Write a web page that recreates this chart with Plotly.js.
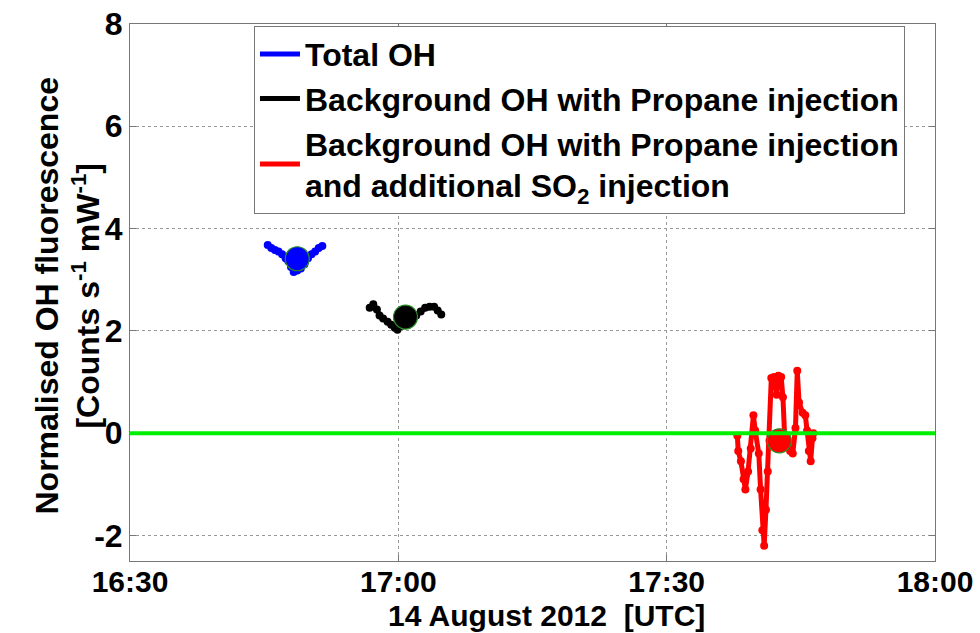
<!DOCTYPE html>
<html>
<head>
<meta charset="utf-8">
<script src="https://cdn.plot.ly/plotly-3.0.1.min.js"></script>
<style>html,body{margin:0;padding:0;background:#fff;}#chart{width:980px;height:633px;}</style>
</head>
<body>
<div id="chart"></div>
<script>
// Minutes after 16:30 UTC, 14 August 2012
const blueMinutes = [15.4, 15.8, 16.2, 16.6, 17.0, 17.4, 17.7, 18.0, 18.3, 18.7, 19.1, 19.5, 19.9, 20.3, 20.7, 21.1, 21.5];
const blueValues  = [3.68, 3.62, 3.58, 3.55, 3.50, 3.42, 3.36, 3.25, 3.15, 3.18, 3.22, 3.30, 3.42, 3.50, 3.55, 3.62, 3.66];
const blueMeanMinute = [18.7];
const blueMeanValue  = [3.41];

const blackMinutes = [26.8, 27.2, 27.6, 27.9, 28.3, 28.8, 29.2, 29.6, 29.9, 30.4, 30.9, 31.5, 32.0, 32.5, 33.0, 33.5, 34.0, 34.4, 34.8];
const blackValues  = [2.45, 2.52, 2.42, 2.30, 2.24, 2.18, 2.12, 2.06, 2.02, 2.10, 2.15, 2.20, 2.30, 2.38, 2.45, 2.47, 2.47, 2.40, 2.32];
const blackMeanMinute = [30.8];
const blackMeanValue  = [2.27];

const redMinutes = [67.9, 68.0, 68.3, 68.6, 68.8, 69.1, 69.4, 69.7, 69.9, 70.3, 70.5, 70.7, 70.9, 71.1, 71.3, 71.5, 71.7, 72.0, 72.3, 72.5, 72.8, 73.0, 73.2, 73.5, 73.8, 74.1, 74.4, 74.6, 74.8, 75.2, 75.5, 75.7, 75.9, 76.1, 76.3, 76.4];
const redValues  = [-0.05, -0.35, -0.55, -0.9, -1.1, -0.75, -0.3, 0.35, 0.05, -0.4, -1.1, -1.9, -2.2, -1.5, -0.75, -0.15, 1.08, 1.1, 0.75, 1.12, 1.1, 0.7, -0.1, -0.2, -0.35, -0.4, 0.1, 1.22, 0.6, 0.4, 0.35, 0.05, -0.35, -0.55, -0.1, 0.0];
const redMeanMinute = [72.6];
const redMeanValue  = [-0.15];

const seriesNames = [
  'Total OH',
  'Background OH with Propane injection',
  'Background OH with Propane injection<br>and additional SO<sub>2</sub> injection'
];
const xTickLabels = ['16:30', '17:00', '17:30', '18:00'];
const yTickValues = [-2, 0, 2, 4, 6, 8];
const xTitle = '14 August 2012  [UTC]';
const yTitle = 'Normalised OH fluorescence<br>[Counts s<sup>-1</sup> mW<sup>-1</sup>]';

const base = new Date(Date.UTC(2012, 7, 14, 16, 30, 0));
function toTime(m) {
  const d = new Date(base.getTime() + m * 60000);
  const p = n => String(n).padStart(2, '0');
  return '2012-08-14 ' + p(d.getUTCHours()) + ':' + p(d.getUTCMinutes()) + ':' + p(d.getUTCSeconds());
}
const tickVals = xTickLabels.map(t => '2012-08-14 ' + t + ':00');

const F = {family: 'Liberation Sans, Arial, sans-serif', size: 32, color: '#000', weight: 'bold'};
const FX = {family: 'Liberation Sans, Arial, sans-serif', size: 30, color: '#000', weight: 'bold'};
const colors = ['#0000ff', '#000000', '#ff0000'];

function lineTrace(mins, vals, c) {
  return {x: mins.map(toTime), y: vals, mode: 'lines+markers', type: 'scatter',
    line: {color: c, width: 5}, marker: {color: c, size: 8}, showlegend: false, hoverinfo: 'skip'};
}
function meanTrace(mins, vals, c) {
  return {x: mins.map(toTime), y: vals, mode: 'markers', type: 'scatter',
    marker: {color: c, size: 24, line: {color: 'rgb(40,140,40)', width: 1.2}}, showlegend: false};
}
function legendTrace(name, c) {
  return {x: [null], y: [null], mode: 'lines', type: 'scatter', name: name,
    line: {color: c, width: 5}, showlegend: true};
}

const data = [
  lineTrace(blueMinutes, blueValues, colors[0]),
  lineTrace(blackMinutes, blackValues, colors[1]),
  lineTrace(redMinutes, redValues, colors[2]),
  meanTrace(blueMeanMinute, blueMeanValue, colors[0]),
  meanTrace(blackMeanMinute, blackMeanValue, colors[1]),
  meanTrace(redMeanMinute, redMeanValue, colors[2]),
  legendTrace(seriesNames[0], colors[0]),
  legendTrace(seriesNames[1], colors[1]),
  legendTrace(seriesNames[2], colors[2])
];

const layout = {
  width: 980, height: 633,
  margin: {l: 130, r: 45, t: 24, b: 72},
  paper_bgcolor: '#fff', plot_bgcolor: '#fff',
  font: F,
  showlegend: true,
  legend: {x: 0.154, y: 0.997, xanchor: 'left', yanchor: 'top',
    bgcolor: '#fff', bordercolor: '#777', borderwidth: 1,
    font: F, itemwidth: 40, tracegroupgap: 0},
  xaxis: {
    type: 'date',
    range: [tickVals[0], tickVals[3]],
    tickvals: tickVals, ticktext: xTickLabels,
    showgrid: true, gridcolor: '#999', griddash: 'dot', gridwidth: 1,
    showline: true, linecolor: '#777', linewidth: 1, mirror: 'ticks',
    ticks: 'inside', ticklen: 6, tickcolor: '#777',
    zeroline: false, tickfont: FX, automargin: false, ticklabelstandoff: -6
  },
  yaxis: {
    range: [-2.5, 8],
    tickvals: yTickValues, ticktext: yTickValues.map(v => String(v)),
    showgrid: true, gridcolor: '#999', griddash: 'dot', gridwidth: 1,
    showline: true, linecolor: '#777', linewidth: 1, mirror: 'ticks',
    ticks: 'inside', ticklen: 6, tickcolor: '#777',
    zeroline: false, tickfont: F, automargin: false
  },
  annotations: [
    {text: xTitle, xref: 'paper', yref: 'paper', x: 0.517, y: 0, xanchor: 'center', yanchor: 'top',
      yshift: -36, showarrow: false, font: FX},
    {text: yTitle, xref: 'paper', yref: 'paper', x: 0, y: 0.5, xanchor: 'center', yanchor: 'middle',
      xshift: -63, yshift: -4, textangle: -90, showarrow: false, font: F}
  ],
  shapes: [{type: 'line', xref: 'paper', x0: 0, x1: 1, yref: 'y', y0: 0, y1: 0,
    line: {color: '#00ee00', width: 4}, layer: 'above'}]
};

Plotly.newPlot('chart', data, layout, {displayModeBar: false, staticPlot: true});
</script>
</body>
</html>
